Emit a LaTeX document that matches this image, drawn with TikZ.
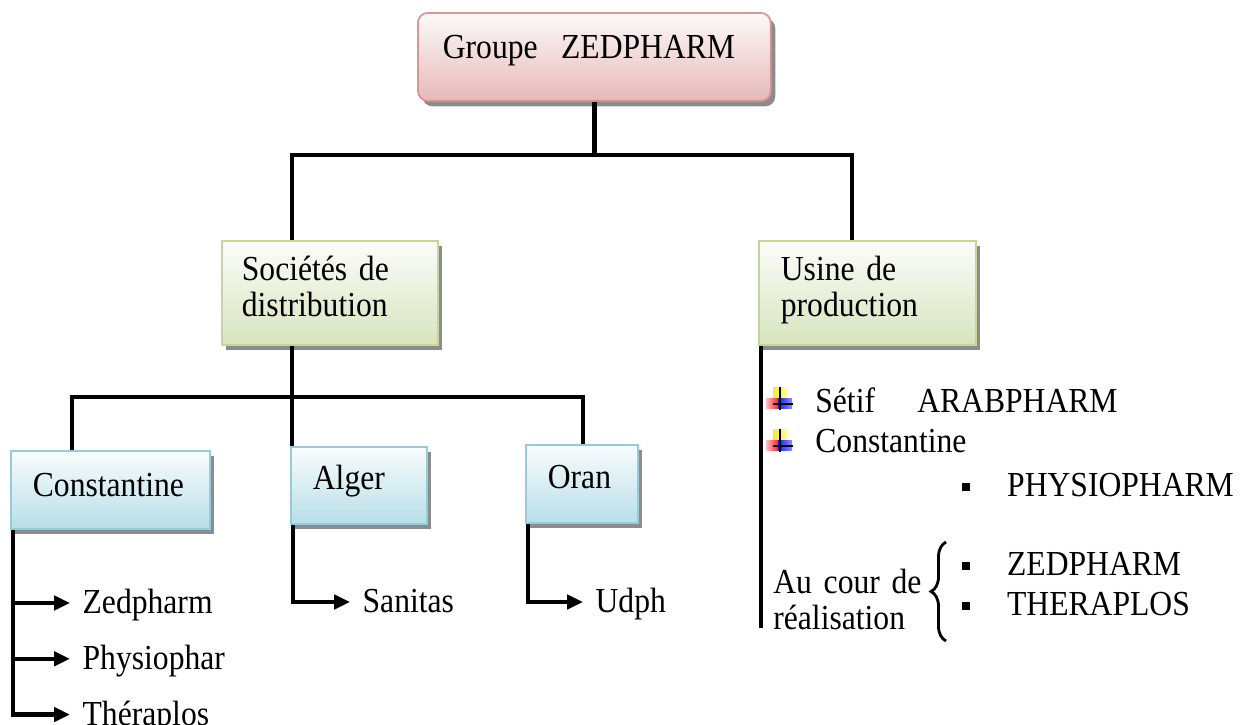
\documentclass[tikz,border=0pt]{standalone}
\usepackage{fontspec}
\setmainfont[FakeStretch=0.9,WordSpace=0.9]{Liberation Serif}
\usepackage[usenames,dvipsnames]{xcolor}
\usepackage{tikz}
\usetikzlibrary{arrows.meta,positioning,shadows,calc,decorations.pathreplacing}

\definecolor{GroupeLine}{HTML}{D99694}
\definecolor{GroupeFill}{HTML}{E6B9B8}
\definecolor{SocLine}{HTML}{C3D69B}
\definecolor{SocFill}{HTML}{D7E4BD}
\definecolor{VilleLine}{HTML}{93CDDD}
\definecolor{VilleFill}{HTML}{B7DEE8}

\newcommand{\carre}{\makebox[25.5pt][l]{\rule[2.8pt]{4.5pt}{4.5pt}}}

\begin{document}
\begin{tikzpicture}[x=0.02cm, y=-0.02cm, font=\fontsize{20}{20.5}\selectfont,
    box/.style={draw, line width=1pt, anchor=north west, align=left,
      inner xsep=0.44cm, inner ysep=0pt, text height=13pt, text depth=8pt,
      general shadow={fill=black!45, shadow xshift=0.09cm, shadow yshift=-0.11cm}},
    groupebox/.style={box, draw=GroupeLine, top color=GroupeFill!8, bottom color=GroupeFill,
      rounded corners=0.2cm, inner xsep=0.5cm, text depth=11pt},
    socbox/.style={box, draw=SocLine, top color=SocFill!8, bottom color=SocFill, text depth=26.6pt},
    villebox/.style={box, draw=VilleLine, top color=VilleFill!8, bottom color=VilleFill},
    tree/.style={line width=2.5pt},
    arr/.style={tree, -{Triangle[length=9pt,width=8pt]}},
    leaf/.style={anchor=west, inner xsep=7pt, inner ysep=0pt, text height=12pt, text depth=0pt},
    rtxt/.style={anchor=base west, inner sep=0pt},
    croix/.pic={
      \fill[left color=Goldenrod!90!yellow, right color=yellow!30] (-7,-17) rectangle (8,-5);
      \fill[left color=red!25, right color=red!90] (-14,-6) rectangle (-1,4);
      \fill[left color=blue!90, right color=blue!45] (-2,-6) rectangle (12,4);
      \draw[line width=1.2pt] (0,-17) -- (0,6) (-7,0) -- (13,0);
    }]
  \useasboundingbox (0,0) rectangle (1250,724);

  %% boxes
  \node (top) [groupebox, text width=6.06cm, minimum height=1.76cm] at (417,12) {Groupe\ \ ZEDPHARM};
  \node (soc) [socbox, inner xsep=0.4cm, text width=3.52cm, minimum height=2.08cm] at (221,240) {Sociétés de\\distribution};
  \node (usi) [socbox, text width=3.46cm, minimum height=2.08cm] at (758,240) {Usine de\\production};
  \node (con) [villebox, text width=3.10cm, minimum height=1.56cm, text depth=5pt] at (10,450) {Constantine};
  \node (alg) [villebox, text width=1.84cm, minimum height=1.54cm] at (290,446) {Alger};
  \node (ora) [villebox, text width=1.36cm, minimum height=1.56cm] at (525,444) {Oran};

  %% tree
  \coordinate (bus1) at (0,155);
  \coordinate (bus2) at (0,397);
  \coordinate (sd) at ($(soc.north west)+(71,0)$);
  \coordinate (ud) at ($(usi.north west)+(94,0)$);
  \coordinate (sb) at ($(soc.south west)+(71,0)$);
  \coordinate (cd) at ($(con.north west)+(62,0)$);
  \coordinate (ad) at ($(alg.north west)+(2,0)$);
  \coordinate (od) at ($(ora.north west)+(58,0)$);
  \draw[tree] (top.south) -- (top.south |- bus1);
  \draw[tree] (sd) -- (sd |- bus1) -- (ud |- bus1) -- (ud);
  \draw[tree] (sb) -- (sb |- bus2);
  \draw[tree] (cd) -- (cd |- bus2) -- (od |- bus2) -- (od);
  \draw[tree] (ad) -- (ad |- bus2);

  %% sociétés
  \node (zed) [leaf] at (70,603) {Zedpharm};
  \node (phy) [leaf, below=0.68cm of zed.south west, anchor=north west] {Physiophar};
  \node (the) [leaf, below=0.68cm of phy.south west, anchor=north west] {Théraplos};
  \node (san) [leaf] at (350,602) {Sanitas};
  \node (udp) [leaf] at (583,602) {Udph};
  \coordinate (cs) at ($(con.south west)+(3,0)$);
  \coordinate (as) at ($(alg.south west)+(3,0)$);
  \coordinate (os) at ($(ora.south west)+(3,0)$);
  \draw[arr] (cs) |- (zed.west);
  \draw[arr] (cs) |- (phy.west);
  \draw[arr] (cs) |- (the.west);
  \draw[arr] (as) |- (san.west);
  \draw[arr] (os) |- (udp.west);

  %% usines
  \draw[tree] ($(usi.south west)+(3,0)$) -- ++(0,282);
  \node (set) [rtxt] at (815,412) {Sétif\hspace{24pt}ARABPHARM};
  \node (cst) [rtxt] at (815,452) {Constantine};
  \pic at ($(set.base west)+(-35,-8)$) {croix};
  \pic at ($(cst.base west)+(-35,-6)$) {croix};
  \node (phm) [rtxt] at (962,496) {\carre PHYSIOPHARM};
  \node (auc) [rtxt, text width=3cm, align=left] at (773,593) {Au cour de\\réalisation};
  \node (zph) [rtxt] at (962,575) {\carre ZEDPHARM};
  \node (thp) [rtxt] at (962,615) {\carre THERAPLOS};
  \draw[line width=1.6pt, decorate, decoration={brace, amplitude=0.3cm}] (946,641) -- (946,542);
\end{tikzpicture}
\end{document}
